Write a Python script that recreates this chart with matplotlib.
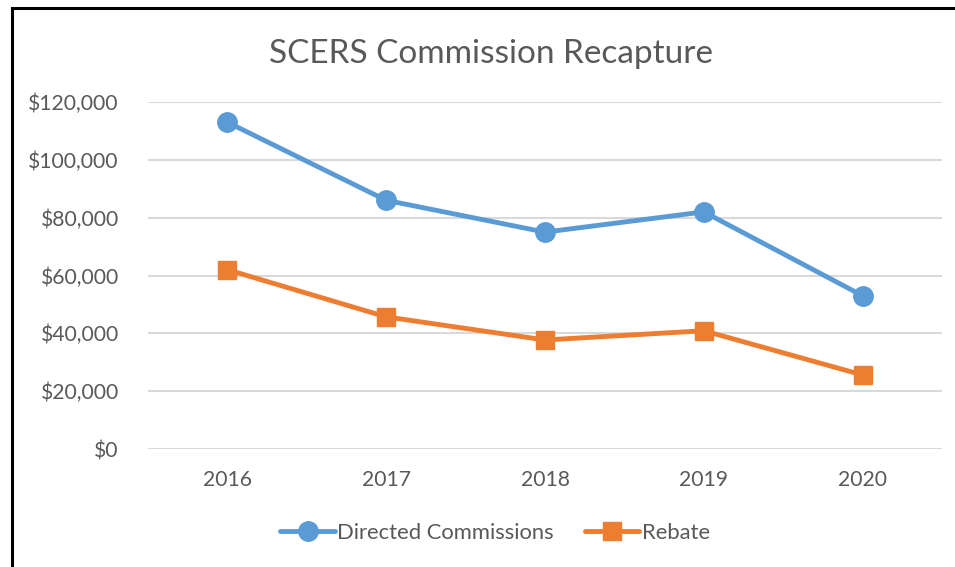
import matplotlib
matplotlib.use("Agg")
import matplotlib.pyplot as plt
from matplotlib.lines import Line2D
from matplotlib.ticker import FuncFormatter

years = ["2016", "2017", "2018", "2019", "2020"]
directed = [113000, 86000, 75000, 82000, 53000]
rebate = [62000, 45700, 37700, 40900, 25600]
yticks = [0, 20000, 40000, 60000, 80000, 100000, 120000]

plt.rcParams['font.family'] = ['Lato', 'DejaVu Sans']
txt = '#595959'
blue = '#5B9BD5'
orange = '#ED7D31'

fig = plt.figure(figsize=(9.55, 5.67), dpi=100)
ax = fig.add_axes([148/955, 1-449/567, (942-148)/955, (449-102)/567])

x = list(range(len(years)))
ax.plot(x, directed, color=blue, lw=3.5, marker='o', ms=14, label='Directed Commissions', solid_capstyle='round')
ax.plot(x, rebate, color=orange, lw=3.5, marker='s', ms=12.5, label='Rebate', solid_capstyle='round')

ax.set_xlim(-0.5, 4.5)
ax.set_ylim(0, 120000)
ax.set_yticks(yticks)
ax.yaxis.set_major_formatter(FuncFormatter(lambda v, p: f"${v:,.0f}"))
ax.set_xticks(x)
ax.set_xticklabels(years)
ax.grid(axis='y', color='#D9D9D9', lw=1.5)
ax.set_axisbelow(True)
for s in ax.spines.values():
    s.set_visible(False)
ax.tick_params(length=0, labelsize=15.2, colors=txt)
ax.tick_params(axis='y', pad=21)
ax.tick_params(axis='x', pad=15)
for lab in ax.get_yticklabels() + ax.get_xticklabels():
    lab.set_color(txt)

fig.text(491/955, 1-54/567, "SCERS Commission Recapture", ha='center', va='center', fontsize=24, color=txt)

handles = [Line2D([], [], color=blue, lw=3.5, marker='o', ms=14, solid_capstyle='round'),
           Line2D([], [], color=orange, lw=3.5, marker='s', ms=12.5, solid_capstyle='round')]
fig.legend(handles, ['Directed Commissions', 'Rebate'], loc='center', bbox_to_anchor=(495/955, 1-533/567),
           ncol=2, frameon=False, fontsize=15.8, labelcolor=txt, handlelength=2.5, columnspacing=1.4, handletextpad=0.1)

# frame
fig.add_artist(Line2D([12/955, 12/955], [0, 1-8/567], color='black', lw=2.2, transform=fig.transFigure))
fig.add_artist(Line2D([12/955, 1], [1-8/567, 1-8/567], color='black', lw=2.2, transform=fig.transFigure))

fig.savefig("out.png", dpi=100)
